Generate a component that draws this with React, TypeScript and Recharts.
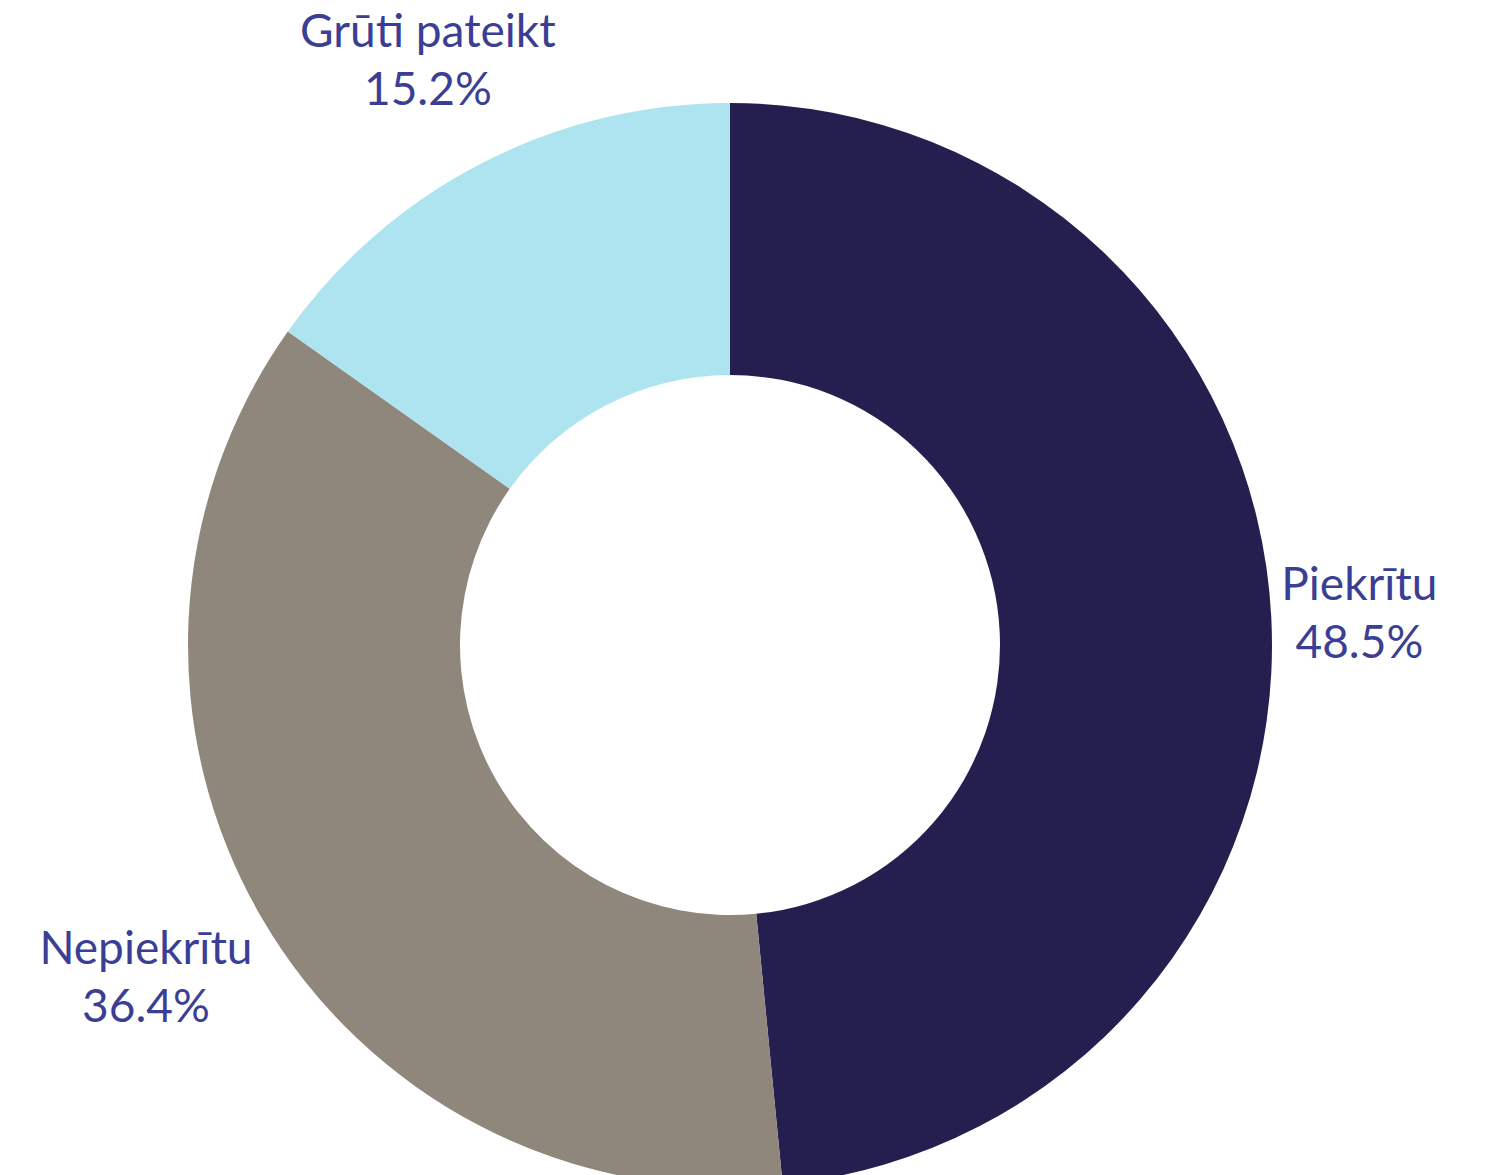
import { PieChart, Pie, Cell } from 'recharts';

const categories = ['Piekrītu', 'Nepiekrītu', 'Grūti pateikt'];
const shares = [48.5, 36.4, 15.2];
const colors = ['#251f50', '#8f877b', '#aee4f0'];

const data = categories.map((name, i) => ({ name, value: shares[i] }));

const RADIAN = Math.PI / 180;
const FONT_SIZE = 46;
const FONT = "Lato, 'Open Sans', sans-serif";

let ctx: CanvasRenderingContext2D | null = null;
const textWidth = (s: string) => {
  if (!ctx) ctx = document.createElement('canvas').getContext('2d');
  if (!ctx) return s.length * FONT_SIZE * 0.45;
  ctx.font = `${FONT_SIZE}px ${FONT}`;
  return ctx.measureText(s).width;
};

const renderLabel = (props: any) => {
  const { cx, cy, midAngle, outerRadius, index } = props;
  const cos = Math.cos(-midAngle * RADIAN);
  const sin = Math.sin(-midAngle * RADIAN);
  const name = categories[index];
  const pct = `${shares[index].toFixed(1)}%`;
  let x: number;
  let y: number;
  if (Math.abs(cos) > 0.7) {
    // side labels: block sits just outside the rim, lines centred on each other
    const half = Math.max(textWidth(name), textWidth(pct)) / 2;
    x = cx + (outerRadius + 10) * cos + Math.sign(cos) * half;
    y = cy + (outerRadius + 120) * sin;
  } else {
    x = cx + (outerRadius + 116) * cos;
    y = cy + (outerRadius + 116) * sin;
  }
  return (
    <text x={x} y={y} textAnchor="middle" fill="#3a3f95" fontFamily={FONT} fontSize={FONT_SIZE}>
      <tspan x={x} dy={-13}>{name}</tspan>
      <tspan x={x} dy={58}>{pct}</tspan>
    </text>
  );
};

export default function App() {
  return (
    <div style={{ position: 'absolute', left: 0, top: 0, width: 1492, height: 1175, background: '#fff', overflow: 'hidden' }}>
      <PieChart width={1492} height={1175} margin={{ top: 0, right: 0, bottom: 0, left: 0 }}>
        <Pie
          data={data}
          dataKey="value"
          nameKey="name"
          cx={730}
          cy={645}
          innerRadius={270}
          outerRadius={542}
          startAngle={90}
          endAngle={-270}
          stroke="none"
          label={renderLabel}
          labelLine={false}
          isAnimationActive={false}
        >
          {data.map((d, i) => (
            <Cell key={d.name} fill={colors[i]} />
          ))}
        </Pie>
      </PieChart>
    </div>
  );
}
